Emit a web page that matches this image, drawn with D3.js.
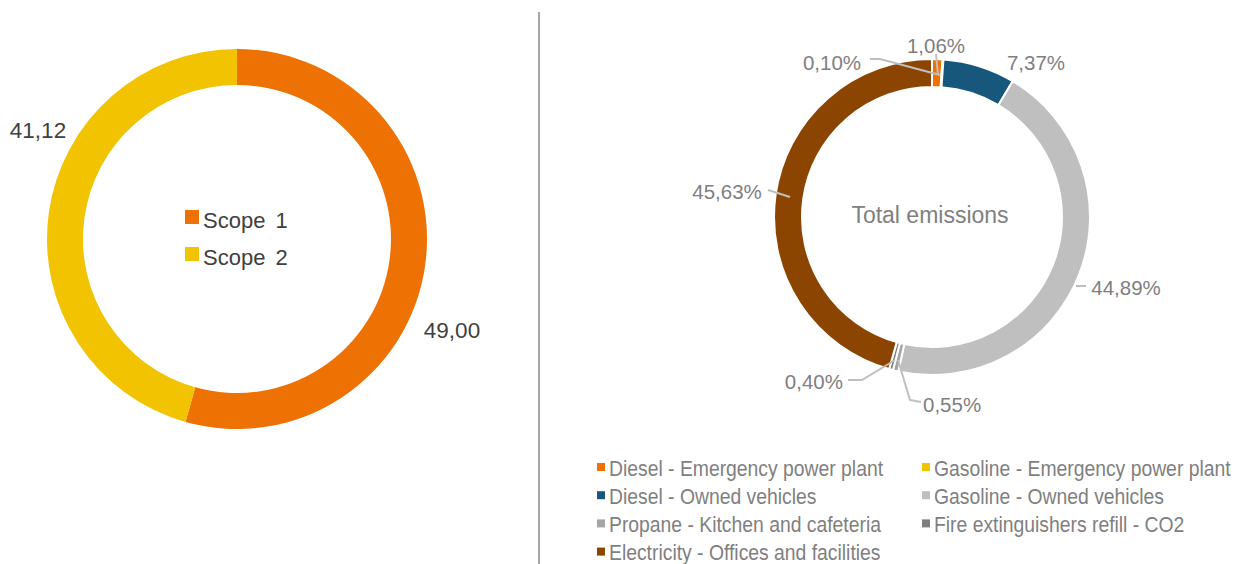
<!doctype html>
<html>
<head>
<style>
  body { margin: 0; background: white; }
  svg text { font-family: "Liberation Sans", Arial, sans-serif; }
  .lbl { fill: #7f7f7f; font-size: 20.5px; }
  .leg { fill: #7f7f7f; font-size: 21.5px; }
  .lead { fill: none; stroke: #bfbfbf; stroke-width: 2px; }
</style>
<script src="https://d3js.org/d3.v7.min.js"></script>
</head>
<body>
<script>
// left chart: scopes
var scopeNames = ['Scope 1', 'Scope 2'];
var scopeValues = [49.00, 41.12];
var scopeColors = ['#ee7203', '#f2c300'];

// right chart: emission sources (%)
var sourceNames = [
  'Diesel - Emergency power plant',
  'Gasoline - Emergency power plant',
  'Diesel - Owned vehicles',
  'Gasoline - Owned vehicles',
  'Propane - Kitchen and cafeteria',
  'Fire extinguishers refill - CO2',
  'Electricity - Offices and facilities'
];
var sourceValues = [1.06, 0.10, 7.37, 44.89, 0.55, 0.40, 45.63];
var sourceColors = ['#ee7203', '#f2c300', '#17577c', '#bfbfbf', '#a5a5a5', '#7f7f7f', '#8c4500'];

var W = 1244, H = 564;
var svg = d3.select('body').append('svg')
  .attr('width', W)
  .attr('height', H);

var fmt = v => v.toFixed(2).replace('.', ',');
var pie = d3.pie().sort(null).value(d => d);

// ---- left donut
var L = { x: 237, y: 239, r0: 154, r1: 190 };
var gL = svg.append('g').attr('transform', `translate(${L.x},${L.y})`);
var arcL = d3.arc().innerRadius(L.r0).outerRadius(L.r1);
var pL = pie(scopeValues);

gL.selectAll('path')
  .data(pL)
  .enter().append('path')
  .attr('d', arcL)
  .attr('fill', (d, i) => scopeColors[i]);

// value labels outside ring
var scopeLabelPos = [[215, 91], [-199, -109]];
gL.selectAll('.sv')
  .data(pL)
  .enter().append('text')
  .attr('x', (d, i) => scopeLabelPos[i][0])
  .attr('y', (d, i) => scopeLabelPos[i][1])
  .attr('text-anchor', 'middle')
  .attr('dominant-baseline', 'central')
  .style('font-size', '22.5px')
  .style('fill', '#404040')
  .text(d => fmt(d.value));

// center legend
var legL = gL.selectAll('.ll')
  .data(scopeNames)
  .enter().append('g')
  .attr('transform', (d, i) => `translate(-52,${-21 + i * 37})`);
legL.append('rect')
  .attr('width', 14).attr('height', 14)
  .attr('y', -8)
  .attr('fill', (d, i) => scopeColors[i]);
legL.append('text')
  .attr('x', 18)
  .attr('y', 2)
  .attr('dominant-baseline', 'central')
  .style('font-size', '22px')
  .style('fill', '#404040')
  .style('word-spacing', '4px')
  .text(d => d);

// divider
svg.append('line')
  .attr('x1', 539).attr('x2', 539)
  .attr('y1', 12).attr('y2', H)
  .attr('stroke', '#a6a6a6')
  .attr('stroke-width', 2);

// ---- right donut
var R = { x: 932, y: 217, r0: 130, r1: 158 };
var gR = svg.append('g').attr('transform', `translate(${R.x},${R.y})`);
var arcR = d3.arc().innerRadius(R.r0).outerRadius(R.r1);
var pR = pie(sourceValues);

gR.selectAll('path')
  .data(pR)
  .enter().append('path')
  .attr('d', arcR)
  .attr('fill', (d, i) => sourceColors[i])
  .attr('stroke', 'white')
  .attr('stroke-width', 2);

gR.append('text')
  .attr('text-anchor', 'middle')
  .attr('dominant-baseline', 'central')
  .attr('x', -2)
  .attr('y', -2)
  .style('font-size', '23px')
  .style('fill', '#808080')
  .text('Total emissions');

// label placement (offsets relative to center) and leader lines
var labelPos = [
  [4, -172, 'middle'],
  [-100, -155, 'middle'],
  [104, -155, 'middle'],
  [194, 70, 'middle'],
  [-9, 187, 'start'],
  [-89, 164, 'end'],
  [-205, -26, 'middle']
];
var leaders = [
  [[4, -163], [6, -142]],
  [[-62, -158], [-52, -158], [8, -142]],
  null,
  [[144, 69], [154, 69]],
  [[-34, 143], [-22, 183], [-11, 185]],
  [[-84, 163], [-70, 163], [-37, 143]],
  [[-164, -27], [-142, -20]]
];

gR.selectAll('.lead')
  .data(leaders.filter(d => d))
  .enter().append('path')
  .attr('class', 'lead')
  .attr('d', d => d3.line()(d));

gR.selectAll('.lbl')
  .data(pR)
  .enter().append('text')
  .attr('class', 'lbl')
  .attr('x', (d, i) => labelPos[i][0])
  .attr('y', (d, i) => labelPos[i][1])
  .attr('text-anchor', (d, i) => labelPos[i][2])
  .attr('dominant-baseline', 'central')
  .text(d => fmt(d.value) + '%');

// bottom legend, two columns (condensed text)
var leg = svg.selectAll('.lg')
  .data(sourceNames)
  .enter().append('g')
  .attr('transform', (d, i) => `translate(${i % 2 === 0 ? 597 : 922},${468 + Math.floor(i / 2) * 28.2})`);
leg.append('rect')
  .attr('width', 8).attr('height', 8)
  .attr('y', -5)
  .attr('fill', (d, i) => sourceColors[i]);
leg.append('text')
  .attr('class', 'leg')
  .attr('transform', 'translate(12,0) scale(0.9,1)')
  .attr('dominant-baseline', 'central')
  .text(d => d);
</script>
</body>
</html>
